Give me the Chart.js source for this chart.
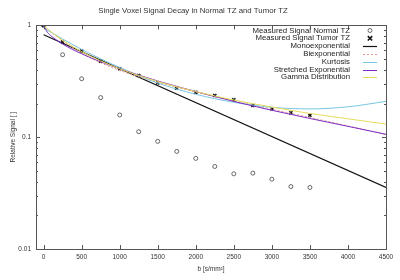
<!DOCTYPE html>
<html>
<head>
  <title>Single Voxel Signal Decay</title>
  <script src="https://cdn.jsdelivr.net/npm/chart.js"></script>
  <style>
    html, body { margin: 0; padding: 0; background: #fff; }
    #wrap { width: 400px; height: 280px; }
  </style>
</head>
<body>
  <div id="wrap"><canvas id="decayChart" width="400" height="280"></canvas></div>

  <script>
    // measured b values and signals
    const bValues = [0, 250, 500, 750, 1000, 1250, 1500, 1750, 2000, 2250, 2500, 2750, 3000, 3250, 3500];
    const normalTZ = [1.0, 0.546, 0.333, 0.226, 0.158, 0.112, 0.0917, 0.0746, 0.0646, 0.0547, 0.047, 0.0477, 0.0421, 0.0362, 0.0355];
    const tumorTZ = [1.0, 0.708, 0.589, 0.478, 0.409, 0.356, 0.306, 0.274, 0.252, 0.236, 0.216, 0.192, 0.179, 0.165, 0.157];

    // model curves
    const monoB = [0, 4500];
    const monoSignal = [0.825, 0.0355];
    const curveB = [0, 50, 100, 250, 500, 750, 1000, 1500, 2000, 2500, 3000, 3500, 4000, 4500];
    const biexpSignal = [1.0, 0.933, 0.872, 0.726, 0.564, 0.463, 0.395, 0.310, 0.254, 0.212, 0.178, 0.150, 0.126, 0.106];
    const kurtosisSignal = [0.95, 0.906, 0.865, 0.755, 0.610, 0.502, 0.420, 0.305, 0.242, 0.205, 0.185, 0.179, 0.187, 0.209];
    const stretchedSignal = [1.0, 0.866, 0.803, 0.681, 0.557, 0.472, 0.409, 0.318, 0.256, 0.209, 0.174, 0.147, 0.125, 0.106];
    const gammaSignal = [1.0, 0.933, 0.875, 0.736, 0.582, 0.481, 0.409, 0.315, 0.256, 0.215, 0.186, 0.163, 0.146, 0.131];

    // axis ticks
    const xTicks = [0, 500, 1000, 1500, 2000, 2500, 3000, 3500, 4000, 4500];
    const yMajor = [0.01, 0.1, 1];
    const yTickLabels = ['0.01', '0.1', '1'];
    const yMinor = [0.02, 0.03, 0.04, 0.05, 0.06, 0.07, 0.08, 0.09, 0.2, 0.3, 0.4, 0.5, 0.6, 0.7, 0.8, 0.9];

    const pts = (xs, ys) => xs.map((x, i) => ({ x: x, y: ys[i] }));

    const textColor = '#333';
    const frameColor = '#555';
    const fontFamily = '"Liberation Sans", Arial, sans-serif';

    // gnuplot-like frame with inward ticks, mirrored
    const framePlugin = {
      id: 'frame',
      afterDraw(chart) {
        const ctx = chart.ctx;
        const a = chart.chartArea;
        const xs = chart.scales.x, ys = chart.scales.y;
        ctx.save();
        ctx.strokeStyle = frameColor;
        ctx.lineWidth = 1;
        ctx.strokeRect(Math.round(a.left) + 0.5, Math.round(a.top) + 0.5,
          Math.round(a.right - a.left), Math.round(a.bottom - a.top));
        ctx.beginPath();
        xTicks.forEach(v => {
          const px = Math.round(xs.getPixelForValue(v)) + 0.5;
          ctx.moveTo(px, a.bottom); ctx.lineTo(px, a.bottom - 4);
          ctx.moveTo(px, a.top); ctx.lineTo(px, a.top + 4);
        });
        yMajor.concat(yMinor).forEach(v => {
          const len = yMajor.includes(v) ? 4 : 2;
          const py = Math.round(ys.getPixelForValue(v)) + 0.5;
          ctx.moveTo(a.left, py); ctx.lineTo(a.left + len, py);
          ctx.moveTo(a.right, py); ctx.lineTo(a.right - len, py);
        });
        ctx.stroke();
        ctx.restore();
      }
    };

    // legend drawn inside the plot, text right aligned with sample on the right
    const keyPlugin = {
      id: 'key',
      afterDraw(chart) {
        const ctx = chart.ctx;
        ctx.save();
        ctx.font = '7.8px ' + fontFamily;
        ctx.textAlign = 'right';
        ctx.textBaseline = 'middle';
        chart.data.datasets.forEach((ds, i) => {
          const y = 30.5 + i * 7.8;
          ctx.fillStyle = '#222';
          ctx.fillText(ds.label, 350, y);
          ctx.strokeStyle = ds.borderColor;
          ctx.lineWidth = ds.borderWidth;
          ctx.beginPath();
          if (ds.showLine === false) {
            const r = ds.pointRadius;
            if (ds.pointStyle === 'circle') {
              ctx.arc(370, y, r, 0, Math.PI * 2);
            } else {
              ctx.moveTo(370 - r, y - r); ctx.lineTo(370 + r, y + r);
              ctx.moveTo(370 - r, y + r); ctx.lineTo(370 + r, y - r);
            }
            ctx.stroke();
          } else {
            ctx.setLineDash(ds.borderDash || []);
            ctx.moveTo(363, Math.round(y) + 0.5);
            ctx.lineTo(377, Math.round(y) + 0.5);
            ctx.stroke();
            ctx.setLineDash([]);
          }
        });
        ctx.restore();
      }
    };

    const lineDefaults = {
      pointRadius: 0,
      borderWidth: 1,
      fill: false,
      cubicInterpolationMode: 'monotone'
    };

    new Chart(document.getElementById('decayChart'), {
      type: 'line',
      data: {
        datasets: [
          {
            label: 'Measured Signal Normal TZ',
            data: pts(bValues, normalTZ),
            showLine: false,
            pointStyle: 'circle',
            pointRadius: 2,
            borderColor: '#444',
            backgroundColor: 'rgba(0,0,0,0)',
            borderWidth: 0.8,
            order: 6
          },
          {
            label: 'Measured Signal Tumor TZ',
            data: pts(bValues, tumorTZ),
            showLine: false,
            pointStyle: 'crossRot',
            pointRadius: 2.2,
            borderColor: '#111',
            backgroundColor: '#111',
            borderWidth: 1.5,
            order: 5
          },
          Object.assign({}, lineDefaults, {
            label: 'Monoexponential',
            data: pts(monoB, monoSignal),
            borderColor: '#111',
            borderWidth: 1.2,
            order: 4
          }),
          Object.assign({}, lineDefaults, {
            label: 'Biexponential',
            data: pts(curveB, biexpSignal),
            borderColor: '#e49a88',
            borderDash: [2, 2],
            order: 3
          }),
          Object.assign({}, lineDefaults, {
            label: 'Kurtosis',
            data: pts(curveB, kurtosisSignal),
            borderColor: '#78c6e2',
            order: 2
          }),
          Object.assign({}, lineDefaults, {
            label: 'Stretched Exponential',
            data: pts(curveB, stretchedSignal),
            borderColor: '#7f2cc4',
            order: 1
          }),
          Object.assign({}, lineDefaults, {
            label: 'Gamma Distribution',
            data: pts(curveB, gammaSignal),
            borderColor: '#e6dc5c',
            order: 0
          })
        ]
      },
      options: {
        responsive: false,
        animation: false,
        layout: { padding: { top: 0, right: 14, bottom: 7, left: 0 } },
        plugins: {
          legend: { display: false },
          tooltip: { enabled: false },
          title: {
            display: true,
            text: 'Single Voxel Signal Decay in Normal TZ and Tumor TZ',
            color: textColor,
            font: { family: fontFamily, size: 7.8, weight: 'normal' },
            padding: { top: 6, bottom: 10 }
          }
        },
        scales: {
          x: {
            type: 'linear',
            min: -100,
            max: 4500,
            afterBuildTicks: s => { s.ticks = xTicks.map(v => ({ value: v })); },
            afterFit: s => { s.height = 24; },
            grid: { display: false, drawTicks: false },
            border: { display: false },
            ticks: {
              color: textColor,
              font: { family: fontFamily, size: 6.5 },
              padding: 4,
              maxRotation: 0,
              autoSkip: false,
              callback: v => String(v)
            },
            title: {
              display: true,
              text: 'b [s/mm²]',
              color: textColor,
              font: { family: fontFamily, size: 6.5 },
              padding: { top: 1, bottom: 0 }
            }
          },
          y: {
            type: 'logarithmic',
            min: 0.01,
            max: 1,
            afterBuildTicks: s => {
              s.ticks = yMajor.concat(yMinor).sort((p, q) => p - q).map(v => ({ value: v, major: yMajor.includes(v) }));
            },
            afterFit: s => { s.width = 36; },
            grid: { display: false, drawTicks: false },
            border: { display: false },
            ticks: {
              color: textColor,
              font: { family: fontFamily, size: 6.5 },
              padding: 5,
              autoSkip: false,
              callback: v => {
                const i = yMajor.indexOf(v);
                return i >= 0 ? yTickLabels[i] : '';
              }
            },
            title: {
              display: true,
              text: 'Relative Signal [ ]',
              color: textColor,
              font: { family: fontFamily, size: 6.5 },
              padding: { top: 9, bottom: 0 }
            }
          }
        }
      },
      plugins: [framePlugin, keyPlugin]
    });
  </script>
</body>
</html>
